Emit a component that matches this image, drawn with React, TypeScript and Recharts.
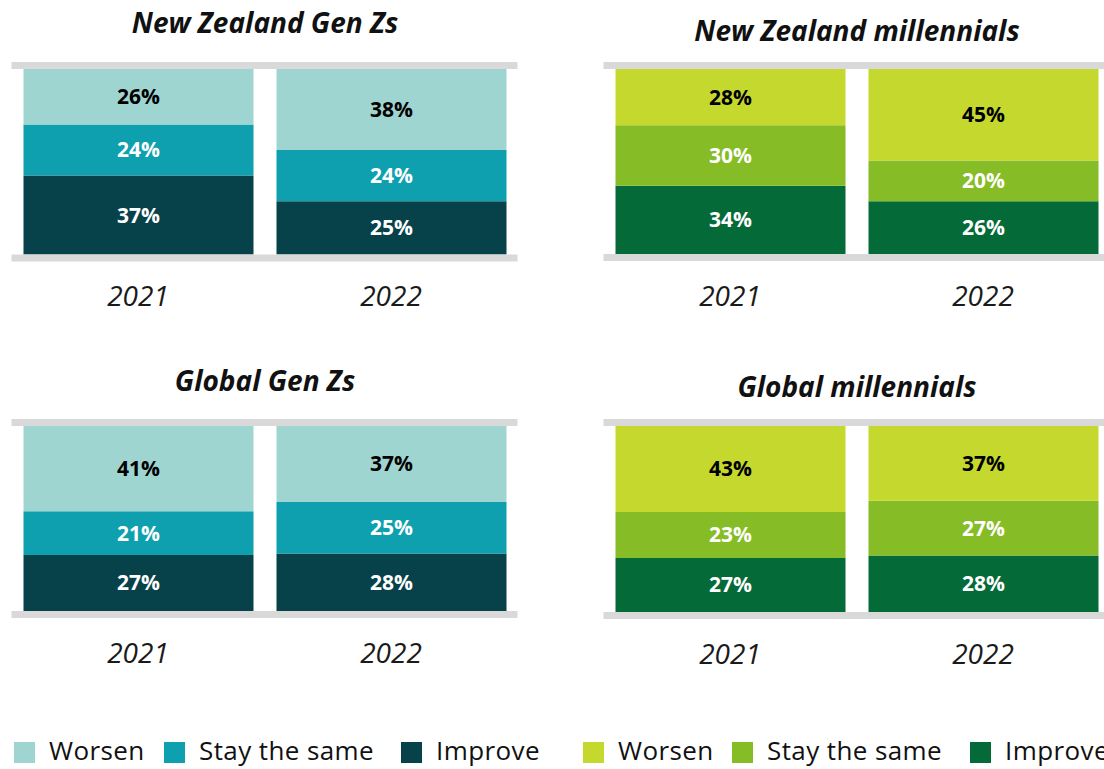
import { BarChart, Bar, XAxis, YAxis, ReferenceLine, LabelList } from "recharts";

const years = ["2021", "2022"];

const nzGenZWorsen = [26, 38];
const nzGenZSame = [24, 24];
const nzGenZImprove = [37, 25];

const nzMilWorsen = [28, 45];
const nzMilSame = [30, 20];
const nzMilImprove = [34, 26];

const glGenZWorsen = [41, 37];
const glGenZSame = [21, 25];
const glGenZImprove = [27, 28];

const glMilWorsen = [43, 37];
const glMilSame = [23, 27];
const glMilImprove = [27, 28];

const seriesNames = ["Worsen", "Stay the same", "Improve"];
const tealColors = ["#9fd5d0", "#0fa0b0", "#07414a"];
const greenColors = ["#c5d82e", "#86bc25", "#046a38"];

const FONT = "'Open Sans', sans-serif";
const LINE = "#d9d9d9";

type Row = { year: string; worsen: number; same: number; improve: number };

function rows(w: number[], s: number[], i: number[]): Row[] {
  return years.map((year, k) => ({ year, worsen: w[k], same: s[k], improve: i[k] }));
}

interface PanelProps {
  title: string;
  data: Row[];
  colors: string[];
  left: number;
  plotTop: number;
  plotBottom: number;
  titleY: number;
}

const AXIS_H = 75;

function Panel({ title, data, colors, left, plotTop, plotBottom, titleY }: PanelProps) {
  const top = plotTop - 20;
  const height = plotBottom - top + AXIS_H;
  // half of the grey rule thickness, in value units (domain is 0..1)
  const pad = 3.5 / (plotBottom - plotTop);
  const label = (key: string, fill: string) => (
    <LabelList
      dataKey={key}
      position="center"
      formatter={(v: any) => `${v}%`}
      fill={fill}
      fontSize={21}
      fontWeight={700}
      fontFamily={FONT}
    />
  );
  return (
    <>
      <div
        style={{
          position: "absolute",
          left: left,
          width: 530,
          top: titleY - 19,
          height: 38,
          lineHeight: "38px",
          textAlign: "center",
          fontFamily: FONT,
          fontWeight: 700,
          fontStyle: "italic",
          fontSize: 28,
          color: "#111",
        }}
      >
        {title}
      </div>
      <div style={{ position: "absolute", left, top }}>
        <BarChart
          width={530}
          height={height}
          data={data}
          stackOffset="expand"
          margin={{ top: 20, right: 12.5, bottom: 0, left: 11.5 }}
        >
          <XAxis
            dataKey="year"
            axisLine={false}
            tickLine={false}
            height={AXIS_H}
            tickMargin={26}
            tick={{ fontSize: 28, fontStyle: "italic", fill: "#1a1a1a", fontFamily: FONT }}
          />
          <YAxis hide domain={[0, 1]} />
          <Bar dataKey="improve" stackId="a" fill={colors[2]} barSize={230} isAnimationActive={false}>
            {label("improve", "#ffffff")}
          </Bar>
          <Bar dataKey="same" stackId="a" fill={colors[1]} barSize={230} isAnimationActive={false}>
            {label("same", "#ffffff")}
          </Bar>
          <Bar dataKey="worsen" stackId="a" fill={colors[0]} barSize={230} isAnimationActive={false}>
            {label("worsen", "#000000")}
          </Bar>
          <ReferenceLine y={1 + pad} stroke={LINE} strokeWidth={7} ifOverflow="visible" />
          <ReferenceLine y={-pad} stroke={LINE} strokeWidth={7} ifOverflow="visible" />
        </BarChart>
      </div>
    </>
  );
}

const legendSquares = [14, 164, 401, 583, 732, 970];

export default function App() {
  const legendItems = [
    ...seriesNames.map((n, i) => ({ name: n, color: tealColors[i] })),
    ...seriesNames.map((n, i) => ({ name: n, color: greenColors[i] })),
  ];
  return (
    <div
      style={{
        position: "absolute",
        left: 0,
        top: 0,
        width: 1104,
        height: 769,
        overflow: "hidden",
        background: "#ffffff",
      }}
    >
      <Panel
        title="New Zealand Gen Zs"
        data={rows(nzGenZWorsen, nzGenZSame, nzGenZImprove)}
        colors={tealColors}
        left={0}
        plotTop={68.5}
        plotBottom={254}
        titleY={22}
      />
      <Panel
        title="New Zealand millennials"
        data={rows(nzMilWorsen, nzMilSame, nzMilImprove)}
        colors={greenColors}
        left={592}
        plotTop={69}
        plotBottom={254}
        titleY={30}
      />
      <Panel
        title="Global Gen Zs"
        data={rows(glGenZWorsen, glGenZSame, glGenZImprove)}
        colors={tealColors}
        left={0}
        plotTop={426}
        plotBottom={611}
        titleY={380}
      />
      <Panel
        title="Global millennials"
        data={rows(glMilWorsen, glMilSame, glMilImprove)}
        colors={greenColors}
        left={592}
        plotTop={426}
        plotBottom={612}
        titleY={386}
      />
      {legendItems.map((item, i) => (
        <div key={i}>
          <div
            style={{
              position: "absolute",
              left: legendSquares[i],
              top: 742,
              width: 21,
              height: 21,
              background: item.color,
            }}
          />
          <div
            style={{
              position: "absolute",
              left: legendSquares[i] + 35,
              top: 733,
              height: 35,
              lineHeight: "35px",
              fontFamily: FONT,
              fontSize: 26,
              letterSpacing: 0.4,
              color: "#111",
              whiteSpace: "nowrap",
            }}
          >
            {item.name}
          </div>
        </div>
      ))}
    </div>
  );
}
